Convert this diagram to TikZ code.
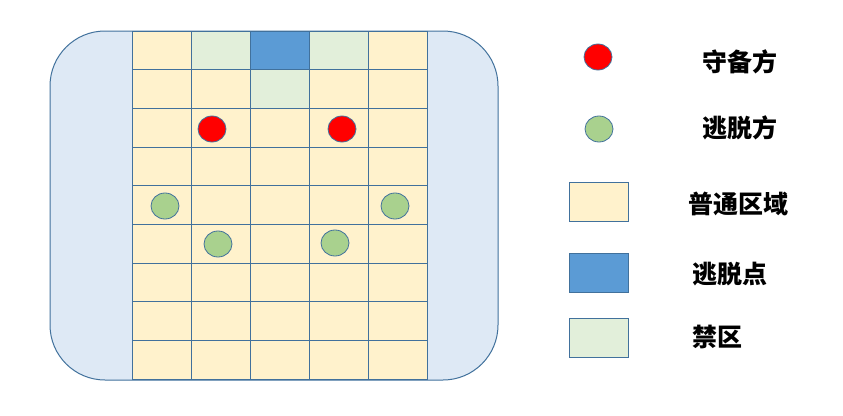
\documentclass[tikz,border=0pt]{standalone}
\usepackage{fontspec}
\newfontfamily\cjk{Noto Sans CJK SC}
\usetikzlibrary{shapes.geometric,positioning}
\definecolor{edgeblue}{HTML}{41719C}
\definecolor{sideblue}{HTML}{DEE9F5}
\definecolor{areayellow}{HTML}{FFF2CC}
\definecolor{exitblue}{HTML}{5B9BD5}
\definecolor{forbidgreen}{HTML}{E2EFDA}
\definecolor{escgreen}{HTML}{A9D18E}

\tikzset{
  cellbox/.style={draw=edgeblue, line width=1pt},
  defender/.style={ellipse, draw=edgeblue, line width=0.8pt, fill=red,
    minimum width=28pt, minimum height=26pt, inner sep=0pt},
  escaper/.style={ellipse, draw=edgeblue, line width=0.8pt, fill=escgreen,
    minimum width=28pt, minimum height=26pt, inner sep=0pt},
  legbox/.style={rectangle, draw=edgeblue, line width=1pt,
    minimum width=59pt, minimum height=39pt, inner sep=0pt},
  legtext/.style={anchor=west, inner sep=0pt,
    font=\cjk\bfseries\fontsize{25}{29}\selectfont}
}

\begin{document}
\begin{tikzpicture}[x=1pt,y=-1pt]
\useasboundingbox (0,0) rectangle (843,415);

% board
\draw[edgeblue, line width=1pt, fill=sideblue, rounded corners=55pt] (50,31) rectangle (498,380);
\foreach \i in {0,...,4}
  \foreach \j in {0,...,8}
    \draw[cellbox, fill=areayellow] ({132+59*\i},{31+38.7*\j}) rectangle ++(59,38.7);
\draw[cellbox, fill=forbidgreen] (191,31) rectangle ++(59,38.7);
\draw[cellbox, fill=exitblue] (250,31) rectangle ++(59,38.7);
\draw[cellbox, fill=forbidgreen] (309,31) rectangle ++(59,38.7);
\draw[cellbox, fill=forbidgreen] (250,69.7) rectangle ++(59,38.7);

% players
\node[defender] (d1) at (212,129) {};
\node[defender] (d2) at (342,129) {};
\node[escaper] (e1) at (165,206) {};
\node[escaper] (e2) at (395,206) {};
\node[escaper] (e3) at (218,244) {};
\node[escaper] (e4) at (335,243) {};

% legend
\node[defender] (kdef) at (598,57) {};
\node[escaper] (kesc) at (599,129) {};
\node[legbox, fill=areayellow] (karea) at (598.5,201.5) {};
\node[legbox, fill=exitblue] (kexit) at (598.5,272.5) {};
\node[legbox, fill=forbidgreen] (kforbid) at (598.5,337.5) {};

\node[legtext] (tdef) at (702,62) {守备方};
\node[legtext] (tesc) at (702,128) {逃脱方};
\node[legtext] (tarea) at (688,204) {普通区域};
\node[legtext] (texit) at (692,274) {逃脱点};
\node[legtext] (tforbid) at (692,337) {禁区};
\end{tikzpicture}
\end{document}
